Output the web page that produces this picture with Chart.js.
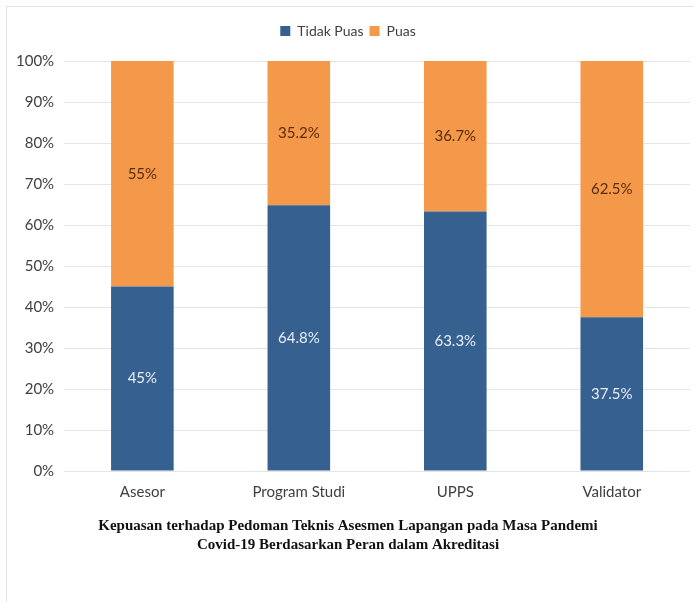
<!DOCTYPE html>
<html>
<head>
<meta charset="utf-8">
<script src="https://cdn.jsdelivr.net/npm/chart.js@4"></script>
<style>
  html, body { margin: 0; padding: 0; background: #fff; }
  #frame { position: absolute; left: 6px; top: 6px; width: 700px; height: 610px; border: 1px solid #e3e3e3; }
  #wrap { position: absolute; left: 0; top: 0; width: 694px; height: 602px; }
</style>
</head>
<body>
<div id="frame"></div>
<div id="wrap"><canvas id="chart"></canvas></div>
<script>
// data
const roles = ['Asesor', 'Program Studi', 'UPPS', 'Validator'];
const tidakPuas = [45, 64.8, 63.3, 37.5];
const puas = [55, 35.2, 36.7, 62.5];
const tidakLabels = ['45%', '64.8%', '63.3%', '37.5%'];
const puasLabels = ['55%', '35.2%', '36.7%', '62.5%'];

// draw value labels in the middle of each segment
const segLabels = {
  id: 'segLabels',
  afterDatasetsDraw(chart) {
    const ctx = chart.ctx;
    ctx.save();
    ctx.font = '15px Lato';
    ctx.textAlign = 'center';
    ctx.textBaseline = 'middle';
    chart.data.datasets.forEach((ds, i) => {
      const meta = chart.getDatasetMeta(i);
      meta.data.forEach((bar, j) => {
        const y = (bar.y + bar.base) / 2;
        ctx.fillStyle = i === 0 ? '#e8eef6' : '#5b2a0c';
        ctx.fillText(ds.valueLabels[j], bar.x, y);
      });
    });
    ctx.restore();
  }
};

// extra room under the legend
const legendGap = {
  id: 'legendGap',
  beforeInit(chart) {
    const fit = chart.legend.fit;
    chart.legend.fit = function () {
      fit.bind(chart.legend)();
      this.height += 13;
    };
  }
};

new Chart(document.getElementById('chart'), {
  type: 'bar',
  data: {
    labels: roles,
    datasets: [
      { label: 'Tidak Puas', data: tidakPuas, valueLabels: tidakLabels, backgroundColor: '#35608f' },
      { label: 'Puas', data: puas, valueLabels: puasLabels, backgroundColor: '#f4994a' }
    ]
  },
  options: {
    responsive: true,
    maintainAspectRatio: false,
    animation: false,
    layout: { padding: { top: 18, left: 6, right: 4, bottom: 47 } },
    datasets: { bar: { categoryPercentage: 1, barPercentage: 0.4 } },
    scales: {
      x: {
        stacked: true,
        grid: { display: false },
        border: { display: false },
        ticks: { color: '#404040', font: { family: 'Lato', size: 15 }, padding: 4 }
      },
      y: {
        stacked: true,
        min: 0, max: 100,
        ticks: { stepSize: 10, color: '#404040', font: { family: 'Lato', size: 15 }, padding: 10,
          callback: v => v + '%' },
        grid: { color: '#e4e4e4', drawTicks: false },
        border: { display: false }
      }
    },
    plugins: {
      legend: {
        position: 'top',
        labels: { boxWidth: 10, boxHeight: 10, color: '#404040', font: { family: 'Lato', size: 14 }, padding: 6 }
      },
      title: {
        display: true,
        position: 'bottom',
        text: ['Kepuasan terhadap Pedoman Teknis Asesmen Lapangan pada Masa Pandemi',
               'Covid-19 Berdasarkan Peran dalam Akreditasi'],
        color: '#111',
        font: { family: 'Liberation Serif', size: 15, weight: 'bold', lineHeight: 1.3 },
        padding: { top: 11, bottom: 0 }
      },
      tooltip: { enabled: false }
    }
  },
  plugins: [segLabels, legendGap]
});
</script>
</body>
</html>
